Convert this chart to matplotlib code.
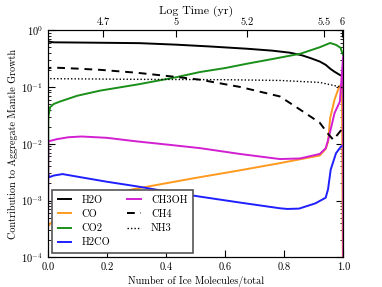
import matplotlib
matplotlib.use('Agg')
import matplotlib.pyplot as plt
from matplotlib.ticker import LogLocator, NullFormatter

plt.rcParams['font.family'] = 'cmr10'
plt.rcParams['mathtext.fontset'] = 'cm'
plt.rcParams['axes.formatter.use_mathtext'] = True
plt.rcParams['font.size'] = 7

# fraction of ice molecules (x) and contribution per species
x_h2o = [0.0, 0.003, 0.02, 0.1, 0.2, 0.31, 0.434, 0.55, 0.675, 0.76, 0.82, 0.86, 0.89, 0.92, 0.94, 0.955, 0.97, 0.99, 0.999, 1.0]
h2o = [0.69, 0.63, 0.61, 0.605, 0.598, 0.59, 0.555, 0.515, 0.47, 0.435, 0.40, 0.36, 0.32, 0.28, 0.245, 0.21, 0.185, 0.16, 0.158, 0.014]

x_co = [0.0, 0.01, 0.05, 0.126, 0.289, 0.5, 0.65, 0.785, 0.92, 0.94, 0.948, 0.955, 0.97, 0.986, 0.995, 1.0]
co = [3.5e-4, 4.0e-4, 6.0e-4, 1.0e-3, 1.58e-3, 2.5e-3, 3.4e-3, 4.55e-3, 6.2e-3, 8.1e-3, 0.0107, 0.028, 0.06, 0.102, 0.112, 1e-6]

x_co2 = [0.0, 0.002, 0.008, 0.02, 0.04, 0.1, 0.177, 0.31, 0.434, 0.515, 0.6, 0.675, 0.76, 0.855, 0.92, 0.955, 0.975, 0.99, 1.0]
co2 = [1e-5, 0.03, 0.044, 0.05, 0.055, 0.07, 0.086, 0.112, 0.148, 0.183, 0.215, 0.257, 0.31, 0.385, 0.5, 0.594, 0.55, 0.49, 0.35]

x_h2co = [0.0, 0.005, 0.02, 0.05, 0.1, 0.2, 0.3, 0.4, 0.515, 0.65, 0.785, 0.81, 0.85, 0.905, 0.94, 0.948, 0.957, 0.975, 0.99, 1.0]
h2co = [3.16e-3, 2.57e-3, 2.75e-3, 2.92e-3, 2.63e-3, 2.14e-3, 1.78e-3, 1.45e-3, 1.17e-3, 9.2e-4, 7.3e-4, 7.1e-4, 7.2e-4, 8.9e-4, 1.12e-3, 1.58e-3, 3.5e-3, 6.8e-3, 8.7e-3, 9.5e-3]

x_ch3oh = [0.0, 0.002, 0.03, 0.07, 0.115, 0.2, 0.3, 0.4, 0.515, 0.65, 0.785, 0.853, 0.92, 0.94, 0.95, 0.97, 0.988, 0.999, 1.0]
ch3oh = [1e-5, 0.011, 0.012, 0.013, 0.0134, 0.0127, 0.011, 0.0097, 0.00836, 0.0066, 0.00537, 0.0055, 0.0066, 0.0083, 0.0126, 0.0347, 0.055, 0.35, 1e-6]

x_ch4 = [0.0, 0.002, 0.02, 0.1, 0.177, 0.3, 0.434, 0.515, 0.65, 0.785, 0.853, 0.92, 0.95, 0.966, 0.994, 1.0]
ch4 = [0.178, 0.215, 0.219, 0.21, 0.2, 0.178, 0.15, 0.134, 0.1, 0.068, 0.04, 0.0234, 0.0145, 0.0117, 0.0178, 0.02]

x_nh3 = [0.0, 0.003, 0.3, 0.6, 0.785, 0.92, 0.99, 1.0]
nh3 = [0.15, 0.14, 0.136, 0.134, 0.13, 0.12, 0.10, 0.095]

top_ticks = [0.187, 0.434, 0.675, 0.934, 0.995]
top_labels = ['4.7', '5', '5.2', '5.5', '6']

fig = plt.figure(figsize=(3.82, 2.87), dpi=100)
ax = fig.add_axes([0.125, 0.1035, 0.774, 0.7915])

lw = 1.4
ax.plot(x_h2o, h2o, color='black', lw=lw, label='H2O')
ax.plot(x_co, co, color='#ff9a1f', lw=lw, label='CO')
ax.plot(x_co2, co2, color='#1a8f1a', lw=lw, label='CO2')
ax.plot(x_h2co, h2co, color='#1f1fff', lw=lw, label='H2CO')
ax.plot(x_ch3oh, ch3oh, color='#d21fd2', lw=lw, label='CH3OH')
ax.plot(x_ch4, ch4, color='black', lw=lw, ls=(0, (4, 3)), label='CH4')
ax.plot(x_nh3, nh3, color='black', lw=1.0, ls=(0, (1, 1.5)), label='NH3')

ax.set_yscale('log')
ax.set_xlim(0, 1)
ax.set_ylim(1e-4, 1)
ax.set_xticks([0.0, 0.2, 0.4, 0.6, 0.8, 1.0])
ax.set_xticklabels(['0.0', '0.2', '0.4', '0.6', '0.8', '1.0'])
ax.yaxis.set_minor_locator(LogLocator(base=10, subs=range(2, 10), numticks=20))
ax.yaxis.set_minor_formatter(NullFormatter())
ax.tick_params(which='both', direction='in', right=True)
ax.tick_params(which='major', length=5, width=0.8, labelsize=7.5)
ax.tick_params(which='minor', length=2.5, width=0.6)
ax.set_xlabel('Number of Ice Molecules/total', fontsize=7.3, labelpad=3)
ax.set_ylabel('Contribution to Aggregate Mantle Growth', fontsize=7.3, labelpad=2)

leg = ax.legend(loc='lower left', ncol=2, fontsize=7.5, fancybox=False,
                framealpha=1, edgecolor='#555555', handlelength=1.3,
                handletextpad=1.0, columnspacing=1.6, borderaxespad=0.45,
                labelspacing=0.45, borderpad=0.5)
leg.get_frame().set_linewidth(1.2)

top = ax.twiny()
top.set_xlim(0, 1)
top.set_xticks(top_ticks)
top.set_xticklabels(top_labels)
top.tick_params(direction='in', length=5, width=0.8, pad=2, labelsize=7.5)
top.set_xlabel('Log Time (yr)', fontsize=8.5, labelpad=3)

fig.savefig('out.png', dpi=100)
